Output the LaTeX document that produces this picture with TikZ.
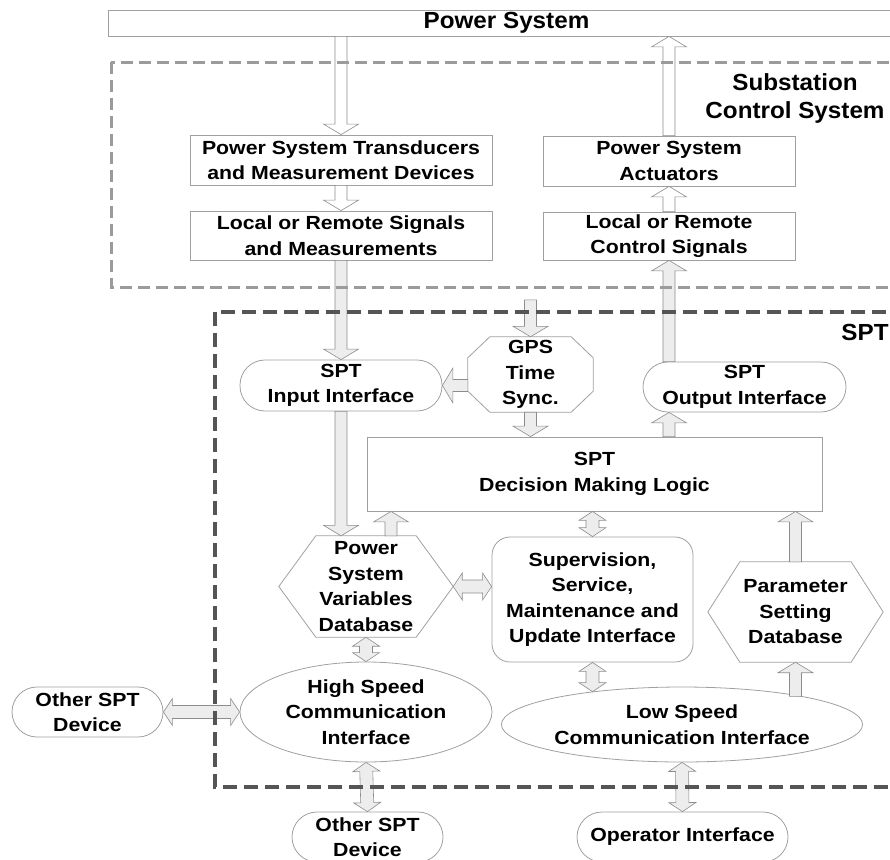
\documentclass[tikz,border=0pt]{standalone}
\usepackage{fontspec}
\setmainfont{Liberation Sans}
\newfontfamily\bodyface{Liberation Sans}[FakeStretch=1.12]
\newfontfamily\headface{Liberation Sans}[FakeStretch=1.04]
\usetikzlibrary{calc,shapes.geometric}

\definecolor{edge}{HTML}{A0A0A0}
\definecolor{arrowedge}{HTML}{8C8C8C}
\definecolor{arrowfill}{HTML}{EDEDED}
\definecolor{substdash}{HTML}{9B9B9B}
\definecolor{sptdash}{HTML}{555555}

\newcommand\dfont{\bodyface\fontsize{19}{25.5}\selectfont\bfseries}
\newcommand\hfont{\headface\fontsize{23.3}{28}\selectfont\bfseries}

% block arrow from #2 to #3 (tip at #3)
\newcommand\fatone[3]{%
  \path ($(#3)!10.5pt!(#2)$) coordinate (fh);
  \filldraw[#1] ($(#2)!6pt!90:(#3)$) -- ($(fh)!6pt!90:(#3)$) -- ($(fh)!17.5pt!90:(#3)$)
    -- (#3) -- ($(fh)!17.5pt!-90:(#3)$) -- ($(fh)!6pt!-90:(#3)$) -- ($(#2)!6pt!-90:(#3)$) -- cycle;
}
% block arrow with heads at both ends
\newcommand\fattwo[3]{%
  \path ($(#2)!9pt!(#3)$) coordinate (fa) ($(#3)!9pt!(#2)$) coordinate (fb);
  \filldraw[#1] (#2) -- ($(fa)!13.5pt!90:(#3)$) -- ($(fa)!6.5pt!90:(#3)$) -- ($(fb)!6.5pt!90:(#3)$)
    -- ($(fb)!13.5pt!90:(#3)$) -- (#3) -- ($(fb)!13.5pt!-90:(#3)$) -- ($(fb)!6.5pt!-90:(#3)$)
    -- ($(fa)!6.5pt!-90:(#3)$) -- ($(fa)!13.5pt!-90:(#3)$) -- cycle;
}
% hexagon outline around a bare node
\newcommand\hexdraw[2]{%
  \draw[draw=edge, line width=0.8pt] (#1.west) -- ($(#1.north west)+(#2,0)$) -- ($(#1.north east)+(-#2,0)$)
    -- (#1.east) -- ($(#1.south east)+(-#2,0)$) -- ($(#1.south west)+(#2,0)$) -- cycle;
}

\begin{document}
\begin{tikzpicture}[x=1pt, y=-1pt,
  rbox/.style={draw=edge, line width=0.8pt, fill=white, align=center, inner sep=0pt, font=\dfont},
  pillbox/.style={rbox, rounded corners=25pt},
  ovalbox/.style={rbox, ellipse},
  bare/.style={align=center, inner sep=0pt, font=\dfont},
  lbl/.style={align=center, inner sep=0pt, font=\hfont},
  wa/.style={fill=white, draw=arrowedge, line width=0.6pt},
  ga/.style={fill=arrowfill, draw=arrowedge, line width=0.6pt},
  substframe/.style={draw=substdash, line width=3pt, dash pattern=on 12pt off 6pt},
  sptframe/.style={draw=sptdash, line width=4pt, dash pattern=on 14pt off 7pt}]
\useasboundingbox (0,0) rectangle (890,859);

% ---- power system and substation level ----
\node[rbox, font=\hfont, minimum width=797pt, minimum height=26pt] (ps) at (506.5,23) {Power System};
\node[lbl] (subl) at (795,98) {Substation\\Control System};
\node[rbox, minimum width=302pt, minimum height=50pt] (trans) at (341,160) {Power System Transducers\\and Measurement Devices};
\node[rbox, minimum width=302pt, minimum height=49pt] (sig) at (341,235.5) {Local or Remote Signals\\and Measurements};
\node[rbox, minimum width=252pt, minimum height=50pt] (act) at (669,161) {Power System\\Actuators};
\node[rbox, minimum width=252pt, minimum height=48pt] (ctl) at (669,236) {Local or Remote\\Control Signals};

% ---- SPT level ----
\node[lbl] (sptl) at (865,332) {SPT};
\node[pillbox, minimum width=202pt, minimum height=51pt] (inp) at (341,385.5) {SPT\\Input Interface};
\node[bare, minimum width=125pt, minimum height=75pt] (gps) at (530.5,374.5) {GPS\\Time\\Sync.};
\draw[draw=edge, line width=0.8pt]
  ($(gps.north west)+(22,0)$) -- ($(gps.north east)+(-22,0)$) -- ($(gps.north east)+(0,21)$)
  -- ($(gps.south east)+(0,-21)$) -- ($(gps.south east)+(-22,0)$) -- ($(gps.south west)+(22,0)$)
  -- ($(gps.south west)+(0,-21)$) -- ($(gps.north west)+(0,21)$) -- cycle;
\node[pillbox, minimum width=203pt, minimum height=50pt] (out) at (744.5,387) {SPT\\Output Interface};
\node[rbox, minimum width=455pt, minimum height=74pt] (dec) at (594.5,474) {SPT\\Decision Making Logic};
\node[bare, minimum width=174pt, minimum height=101pt] (psv) at (366,586.5) {Power\\System\\Variables\\Database};
\hexdraw{psv}{37}
\node[rbox, rounded corners=18pt, minimum width=201pt, minimum height=125pt] (sup) at (592.5,599.5) {Supervision,\\Service,\\Maintenance and\\Update Interface};
\node[bare, minimum width=175pt, minimum height=100pt] (par) at (795.5,612) {Parameter\\Setting\\Database};
\hexdraw{par}{32}
\node[ovalbox, minimum width=252pt, minimum height=100pt] (hs) at (366,712) {High Speed\\Communication\\Interface};
\node[ovalbox, minimum width=330pt, minimum height=75pt] (ls) at (682,724.5) {Low Speed\\Communication Interface};
\node[pillbox, minimum width=151pt, minimum height=50pt] (oth1) at (87.5,712) {Other SPT\\Device};
\node[pillbox, minimum width=151pt, minimum height=50pt] (oth2) at (367.5,837) {Other SPT\\Device};
\node[pillbox, minimum width=211pt, minimum height=50pt] (opi) at (682.5,837) {Operator Interface};

% ---- signal flow in the substation ----
\coordinate (psdn) at (trans.north |- ps.south);
\fatone{wa}{psdn}{trans.north}
\fatone{wa}{trans.south}{sig.north}
\coordinate (psup) at (act.north |- ps.south);
\fatone{wa}{act.north}{psup}
\fatone{wa}{ctl.north}{act.south}

% ---- signal flow in the SPT ----
\fatone{ga}{sig.south}{inp.north}
\coordinate (outx) at (ctl.south |- out.north);
\fatone{ga}{outx}{ctl.south}
\coordinate (gpsfeed) at ($(gps.north)+(0,-37)$);
\fatone{ga}{gpsfeed}{gps.north}
\coordinate (gpsw) at (gps.west |- inp.east);
\fatone{ga}{gpsw}{inp.east}
\coordinate (decgps) at (gps.south |- dec.north);
\fatone{ga}{gps.south}{decgps}
\coordinate (decout) at (ctl.south |- dec.north);
\coordinate (outin) at (ctl.south |- out.south);
\fatone{ga}{decout}{outin}
\coordinate (psvin) at (inp.south |- psv.north);
\fatone{ga}{inp.south}{psvin}
\coordinate (psvup) at ($(psv.north)+(25,0)$);
\coordinate (decin) at (psvup |- dec.south);
\fatone{ga}{psvup}{decin}
\coordinate (parup) at (par.north |- dec.south);
\fatone{ga}{par.north}{parup}
\coordinate (lsup) at (par.south |- ls.13);
\fatone{ga}{lsup}{par.south}

\coordinate (decsup) at (sup.north |- dec.south);
\fattwo{ga}{decsup}{sup.north}
\coordinate (supw) at (psv.east -| sup.west);
\fattwo{ga}{psv.east}{supw}
\fattwo{ga}{psv.south}{hs.north}
\fattwo{ga}{oth1.east}{hs.west}
\fattwo{ga}{hs.south}{oth2.north}
\coordinate (lsin) at (sup.south |- ls.160);
\fattwo{ga}{sup.south}{lsin}
\fattwo{ga}{ls.south}{opi.north}

% ---- boundaries ----
\draw[substframe] (111,62) rectangle (905,287);
\draw[sptframe] (215,312) rectangle (905,787);
\end{tikzpicture}
\end{document}
